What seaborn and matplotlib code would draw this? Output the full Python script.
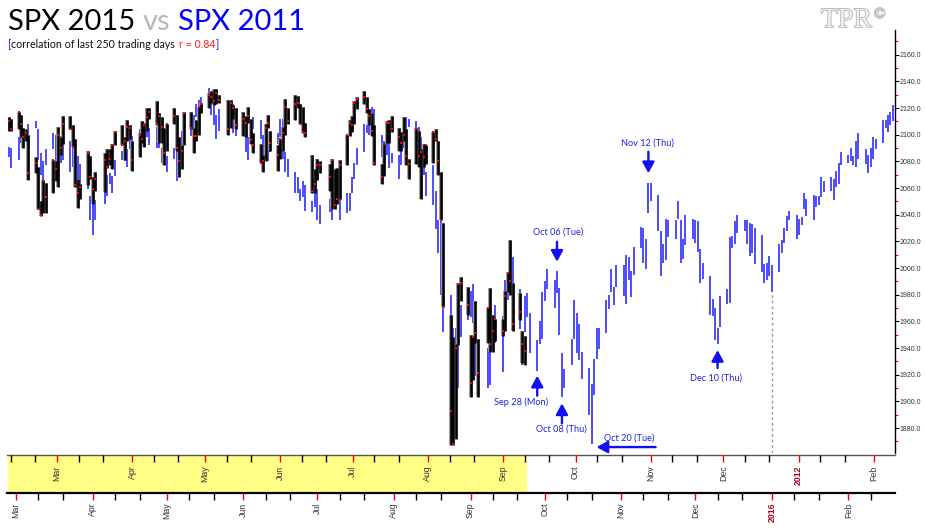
import numpy as np
import pandas as pd
import seaborn as sns
import matplotlib
matplotlib.use("Agg")
import matplotlib.pyplot as plt
import matplotlib.dates as mdates
import matplotlib.patheffects as pe
from matplotlib.transforms import offset_copy
from matplotlib.ticker import MultipleLocator, FormatStrFormatter

# ---- sessions: real 2015 sessions up to Sep 23, projected weekdays after ----
holidays_2015 = ["2015-04-03", "2015-05-25", "2015-07-03", "2015-09-07"]
past_days = pd.bdate_range("2015-02-26", "2015-09-23", freq="C", holidays=holidays_2015)
future_days = pd.bdate_range("2015-09-24", "2016-02-19")
days = past_days.append(future_days)

# ---- SPX 2015 (black bars) ----
highs_2015 = [
    2113, 2112,
    2117, 2115, 2105, 2104, 2100, 2083, 2076, 2050, 2066, 2064, 2081, 2080, 2106, 2098, 2114, 2114, 2107, 2097, 2067, 2063, 2088, 2084,
    2068, 2072, 2086, 2089, 2089, 2093, 2103, 2107, 2098, 2111, 2107, 2095, 2101, 2110, 2109, 2120, 2120, 2125, 2116, 2113, 2105,
    2108, 2120, 2115, 2098, 2092, 2117, 2117, 2105, 2111, 2121, 2124, 2131, 2133, 2134, 2134, 2130, 2126, 2126, 2122, 2120,
    2117, 2114, 2121, 2112, 2101, 2093, 2085, 2108, 2115, 2103, 2092, 2097, 2106, 2127, 2120, 2130, 2129, 2123, 2121, 2109, 2085, 2074,
    2082, 2080, 2078, 2082, 2074, 2075, 2081, 2100, 2111, 2114, 2125, 2128, 2133, 2128, 2119, 2116, 2107, 2078, 2094, 2110, 2111, 2114,
    2105, 2102, 2113, 2104, 2082, 2105, 2103, 2089, 2093, 2092, 2102, 2104, 2095, 2072, 2034, 1965, 1948, 1943, 1989, 1993, 1986,
    1950, 1948, 1975, 1947, 1970, 1985, 1965, 1962, 1962, 1983, 1997, 2021, 1989, 1981, 1953, 1949,
]
lows_2015 = [
    2103, 2103,
    2104, 2098, 2090, 2095, 2066, 2071, 2044, 2039, 2041, 2041, 2056, 2065, 2061, 2085, 2093, 2104, 2091, 2061, 2045, 2052, 2062, 2067,
    2048, 2058, 2057, 2075, 2077, 2074, 2092, 2092, 2081, 2095, 2097, 2073, 2083, 2094, 2091, 2103, 2112, 2107, 2094, 2094, 2077,
    2088, 2108, 2088, 2068, 2074, 2092, 2104, 2086, 2095, 2100, 2116, 2120, 2124, 2122, 2123, 2124, 2100, 2105, 2112, 2104,
    2099, 2098, 2109, 2093, 2086, 2079, 2072, 2080, 2105, 2088, 2073, 2082, 2088, 2100, 2108, 2111, 2120, 2108, 2101, 2098, 2056, 2056,
    2066, 2071, 2058, 2044, 2044, 2048, 2052, 2077, 2099, 2102, 2108, 2119, 2123, 2116, 2107, 2099, 2077, 2063, 2069, 2094, 2094, 2102,
    2088, 2088, 2095, 2077, 2067, 2078, 2076, 2052, 2076, 2078, 2079, 2095, 2070, 2036, 1971, 1867, 1867, 1872, 1942, 1975, 1965,
    1903, 1916, 1944, 1903, 1944, 1937, 1937, 1945, 1949, 1953, 1982, 1980, 1953, 1961, 1929, 1927,
]
closes_2015 = [
    2110, 2104,
    2117, 2108, 2098, 2101, 2071, 2079, 2044, 2040, 2065, 2053, 2081, 2074, 2100, 2090, 2108, 2104, 2091, 2062, 2056, 2061, 2086, 2068,
    2059, 2067, 2081, 2076, 2082, 2092, 2102, 2092, 2095, 2106, 2105, 2081, 2100, 2097, 2107, 2113, 2117, 2108, 2114, 2106, 2086,
    2108, 2114, 2090, 2080, 2088, 2116, 2105, 2099, 2099, 2121, 2123, 2130, 2128, 2125, 2131, 2126, 2104, 2124, 2120, 2107,
    2112, 2109, 2114, 2096, 2092, 2079, 2080, 2105, 2109, 2094, 2085, 2097, 2101, 2121, 2110, 2123, 2124, 2108, 2102, 2101, 2058, 2063,
    2077, 2077, 2068, 2081, 2047, 2052, 2077, 2100, 2109, 2107, 2124, 2127, 2128, 2119, 2114, 2103, 2079, 2068, 2093, 2109, 2109, 2104,
    2098, 2094, 2100, 2084, 2078, 2104, 2084, 2087, 2083, 2092, 2102, 2097, 2080, 2036, 1971, 1893, 1868, 1940, 1988, 1989, 1972,
    1914, 1948, 1951, 1921, 1970, 1943, 1953, 1962, 1953, 1979, 1996, 1990, 1958, 1967, 1943, 1938,
]

# ---- SPX 2011 (blue bars), as drawn on the 2015 scale ----
highs_2011 = [
    2091, 2090, 2098, 2099, 2099, 2104, 2108, 2110, 2104, 2086, 2080, 2089, 2101,
    2100, 2083, 2099, 2099, 2095, 2094, 2094, 2084, 2078, 2072, 2054, 2053, 2051, 2061, 2070, 2071, 2069, 2081, 2088, 2089, 2089, 2099, 2099,
    2104, 2103, 2105, 2106, 2105, 2106, 2099, 2090, 2090, 2084, 2090, 2088, 2082, 2103, 2106, 2105, 2115, 2123, 2126, 2128,
    2135, 2127, 2122, 2115, 2119, 2115, 2124, 2123, 2115, 2116, 2106, 2098, 2108, 2113, 2111, 2100, 2091, 2093, 2096, 2101, 2112,
    2112, 2087, 2082, 2072, 2068, 2059, 2065, 2062, 2050, 2064, 2059, 2047, 2052, 2053, 2068, 2070, 2058, 2056, 2056, 2068, 2079, 2090,
    2108, 2107, 2108, 2121, 2119, 2100, 2095, 2099, 2095, 2086, 2085, 2095, 2098, 2113, 2112, 2110, 2106, 2098, 2085, 2072,
    2077, 2058, 2036, 2036, 1997, 1980, 1955, 1955, 1968, 1972, 1985, 1983, 1988, 1974, 1940, 1940, 1947, 1961, 1972, 1964, 1991, 1996, 2008,
    2008, 1984, 1950, 1979, 1981, 1966, 1946, 1960, 1982, 1990, 1999, 1991, 1998, 1985, 1936, 1924, 1947, 1976, 1966, 1958, 1937, 1925, 1913,
    1932, 1955, 1955, 1976, 1980, 1999, 1986, 2002, 2002, 2010, 2008, 1998, 2016, 2031, 2030, 2022, 2064, 2064, 2055, 2028,
    2018, 2037, 2036, 2036, 2050, 2036, 2022, 2040, 2037, 2036, 2035, 2014, 2004, 1994, 1977, 1970, 1955, 1979, 1984, 2023,
    2024, 2035, 2040, 2036, 2036, 2034, 2033, 2030, 2025, 2003, 2004, 2009, 2002, 2018, 2021, 2030, 2039, 2043, 2040, 2037,
    2038, 2056, 2052, 2055, 2054, 2054, 2068, 2065, 2068, 2067, 2073, 2079, 2087, 2085, 2090, 2084, 2095, 2101, 2089, 2085,
    2090, 2098, 2097, 2111, 2111, 2115, 2117, 2122,
]
lows_2011 = [
    2083, 2075, 2081, 2094, 2092, 2096, 2097, 2105, 2081, 2070, 2065, 2077, 2089,
    2075, 2072, 2079, 2081, 2072, 2076, 2081, 2063, 2063, 2059, 2036, 2025, 2036, 2048, 2054, 2063, 2056, 2069, 2081, 2080, 2076, 2089, 2093,
    2093, 2096, 2097, 2098, 2092, 2090, 2090, 2079, 2080, 2072, 2082, 2065, 2075, 2087, 2101, 2099, 2103, 2113, 2118, 2123,
    2123, 2115, 2107, 2097, 2103, 2106, 2114, 2101, 2099, 2103, 2087, 2081, 2095, 2104, 2097, 2080, 2082, 2080, 2087, 2093, 2098,
    2082, 2072, 2068, 2056, 2056, 2050, 2053, 2043, 2042, 2046, 2036, 2033, 2042, 2036, 2050, 2058, 2036, 2041, 2043, 2056, 2067, 2077,
    2087, 2101, 2100, 2108, 2100, 2083, 2080, 2085, 2075, 2079, 2067, 2077, 2090, 2088, 2106, 2099, 2097, 2073, 2070, 2054,
    2047, 2029, 2011, 1980, 1952, 1908, 1892, 1909, 1910, 1948, 1961, 1963, 1959, 1919, 1910, 1910, 1912, 1938, 1944, 1922, 1963, 1976, 1991,
    1983, 1954, 1927, 1952, 1963, 1936, 1923, 1943, 1947, 1975, 1984, 1970, 1981, 1950, 1903, 1910, 1927, 1947, 1936, 1931, 1917, 1890, 1868,
    1905, 1932, 1939, 1951, 1969, 1982, 1972, 1986, 1979, 1973, 1991, 1978, 1995, 2015, 2004, 1999, 2041, 2050, 2028, 1994,
    2004, 2006, 2023, 2022, 2037, 2004, 2007, 2017, 2022, 2019, 2012, 1989, 1992, 1965, 1964, 1946, 1943, 1956, 1973, 1974,
    2015, 2018, 2026, 2028, 2018, 2009, 2011, 2003, 1997, 1989, 1991, 1994, 1982, 1997, 2011, 2019, 2028, 2036, 2022, 2025,
    2032, 2044, 2039, 2036, 2046, 2047, 2053, 2057, 2058, 2051, 2061, 2063, 2077, 2079, 2080, 2077, 2076, 2082, 2078, 2071,
    2076, 2082, 2089, 2094, 2105, 2102, 2107, 2110,
]

assert len(highs_2015) == len(lows_2015) == len(closes_2015) == len(past_days)
assert len(highs_2011) == len(lows_2011) == len(days)

# ---- axis labels and call-outs ----
months_2015 = ["Mar", "Apr", "May", "Jun", "Jul", "Aug", "Sep", "Oct", "Nov", "Dec", "2016", "Feb"]
months_2011 = ["Mar", "Apr", "May", "Jun", "Jul", "Aug", "Sep", "Oct", "Nov", "Dec", "2012", "Feb"]
ann_labels = ["Sep 28 (Mon)", "Oct 06 (Tue)", "Oct 08 (Thu)", "Oct 20 (Tue)", "Nov 12 (Thu)", "Dec 10 (Thu)"]
ann_dates = pd.to_datetime(["2015-09-28", "2015-10-06", "2015-10-08", "2015-10-20", "2015-11-12", "2015-12-10"])
ann_side = ["low", "high", "low", "low", "high", "low"]

blue = pd.DataFrame({"high": highs_2011, "low": lows_2011}, index=days)

sns.set_theme(style="white")
plt.rcParams["font.family"] = ["Liberation Sans", "DejaVu Sans"]

W, H = 925, 530
fig = plt.figure(figsize=(W / 100, H / 100), dpi=100)


def box(l, t, r, b):
    return [l / W, 1 - b / H, (r - l) / W, (b - t) / H]


ax = fig.add_axes(box(7.5, 30, 895, 453))
strip = fig.add_axes(box(7.5, 455, 895, 493))
xlim = (pd.Timestamp("2015-02-25 13:00"), pd.Timestamp("2016-02-19 20:00"))

# bars
ax.vlines(days, blue["low"], blue["high"], color="#2424ff", lw=1.15, zorder=2)
ax.vlines(past_days, lows_2015, highs_2015, color="#9a9a9a", lw=2.8, zorder=3)
ax.vlines(past_days, lows_2015, highs_2015, color="black", lw=1.8, zorder=4)
sns.scatterplot(x=past_days, y=closes_2015, ax=ax, marker="s", s=3, color="red",
                linewidth=0, zorder=5)

ax.set_ylim(1861.3, 2178.5)
ax.set_xticks([])
ax.set_xlim(*xlim)
ax.set_xlabel("")
ax.set_ylabel("")
for s in ["top", "left", "bottom"]:
    ax.spines[s].set_visible(False)
ax.spines["right"].set_color("black")
ax.spines["right"].set_linewidth(1.0)
ax.yaxis.tick_right()
ax.yaxis.set_major_locator(MultipleLocator(20))
ax.yaxis.set_minor_locator(MultipleLocator(10))
ax.yaxis.set_major_formatter(FormatStrFormatter("%.1f"))
ax.tick_params(axis="y", which="major", length=3, width=0.8, color="black",
               labelsize=5, labelcolor="#333333", pad=0.5)
ax.tick_params(axis="y", which="minor", length=2.5, width=0.8, color="red")

# dotted marker at the turn of the year
year_turn = pd.Timestamp("2016-01-01")
ax.vlines(year_turn, ax.get_ylim()[0], blue.loc[year_turn, "low"], colors="#9a9a9a",
          linestyles=(0, (2, 2)), lw=1, zorder=1)

# call-outs (offsets in pixels: tip, tail, text)
layout = {
    "Sep 28 (Mon)": ((0, -5), (0, -25), (-16, -32)),
    "Oct 06 (Tue)": ((0, 9), (0, 29), (1.5, 38.7)),
    "Oct 08 (Thu)": ((0, -6), (0, -26), (-1, -32)),
    "Oct 20 (Tue)": ((5, -3), (64, -3), (38, 6)),
    "Nov 12 (Thu)": ((0, 9.5), (0, 31), (-1, 40)),
    "Dec 10 (Thu)": ((0, -6), (0, -24), (-1.5, -34)),
}
for label, d, side in zip(ann_labels, ann_dates, ann_side):
    val = float(blue.loc[d, side])
    xd = mdates.date2num(d)
    tip, tail, txt = layout[label]
    tip_tr = offset_copy(ax.transData, fig=fig, x=tip[0], y=tip[1], units="dots")
    ax.annotate("", xy=(xd, val), xycoords=tip_tr,
                xytext=(tail[0] - tip[0], tail[1] - tip[1]), textcoords="offset pixels",
                arrowprops=dict(arrowstyle="-|>,head_length=0.55,head_width=0.3",
                                color="#1010f0", lw=1.7, shrinkA=0, shrinkB=0),
                zorder=6)
    ax.annotate(label, xy=(xd, val), xytext=txt, textcoords="offset pixels",
                ha="center", va="center", fontsize=6.6, color="#2020e6",
                family=["Lato", "DejaVu Sans"], zorder=6)

# ---- time strip with the two calendars ----
strip.set_ylim(0, 1)
strip.axvspan(xlim[0], past_days[-1] + pd.Timedelta(hours=14), color="#ffff85", zorder=0)
strip.set_yticks([])
strip.spines["left"].set_visible(False)
strip.spines["right"].set_visible(False)
strip.spines["top"].set_color("#555555")
strip.spines["top"].set_linewidth(1.0)
strip.spines["bottom"].set_color("black")
strip.spines["bottom"].set_linewidth(1.6)

month_starts_2015 = pd.date_range("2015-03-01", "2016-02-01", freq="MS")
minor_2015 = [d for d in pd.date_range("2015-02-10", "2016-02-20", freq="D") if d.day in (10, 20)]
strip.xaxis.set_ticks_position("bottom")
strip.set_xticks(month_starts_2015)
strip.set_xticklabels(months_2015)
strip.set_xticks(minor_2015, minor=True)
strip.set_xlim(*xlim)
strip.tick_params(axis="x", which="major", direction="out", length=5, width=1, color="red",
                  labelsize=6.3, labelcolor="#333333", labelrotation=90, pad=2)
strip.tick_params(axis="x", which="minor", direction="out", length=5, width=1, color="black")

# 2011 calendar, slightly compressed onto the 2015 dates
top_anchor = pd.Timestamp("2015-03-17 14:00")
start_2011 = pd.Timestamp("2011-03-01")


def to_2015(d):
    return top_anchor + (d - start_2011) * 0.981


month_starts_2011 = pd.date_range("2011-03-01", "2012-02-01", freq="MS")
minor_2011 = [d for d in pd.date_range("2011-02-10", "2012-02-20", freq="D") if d.day in (10, 20)]
top = strip.twiny()
for s in top.spines.values():
    s.set_visible(False)
top.set_xticks([to_2015(d) for d in month_starts_2011])
top.set_xticklabels(months_2011)
top.set_xticks([to_2015(d) for d in minor_2011], minor=True)
top.set_xlim(*xlim)
top.tick_params(axis="x", which="major", direction="in", length=5, width=1, color="red",
                labelsize=6.3, labelcolor="#333333", labelrotation=90, pad=-7.5)
top.tick_params(axis="x", which="minor", direction="in", length=5, width=1, color="black")
for lbl in top.get_xticklabels():
    lbl.set_verticalalignment("top")
    if lbl.get_text().isdigit():
        lbl.set_color("#b00020")
        lbl.set_fontweight("bold")
for lbl in strip.get_xticklabels():
    if lbl.get_text().isdigit():
        lbl.set_color("#b00020")
        lbl.set_fontweight("bold")

# ---- title block ----
fig.canvas.draw()
renderer = fig.canvas.get_renderer()


def chain(parts, x, y, **kw):
    for text, color, gap in parts:
        t = fig.text((x + gap) / W, 1 - y / H, text, color=color, va="baseline", **kw)
        x = t.get_window_extent(renderer).x1


chain([("SPX 2015", "black", 0), ("vs", "#b8b8b8", 7), ("SPX 2011", "#0000ff", 8)],
      8, 30, fontsize=21, family=["Lato", "DejaVu Sans"])
chain([("[", "#0000ff", 0), ("correlation of last 250 trading days", "#111111", 0),
       ("r = 0.84", "#ff1a1a", 3.5), ("]", "#0000ff", 0.5)],
      8, 48, fontsize=7.7, family=["Lato", "DejaVu Sans"])

fig.text(821 / W, 1 - 27 / H, "TPR", fontsize=20, color="#f0f0f0",
         family=["Liberation Serif", "DejaVu Serif"],
         path_effects=[pe.withStroke(linewidth=1.0, foreground="#a8a8a8")])
fig.text(874 / W, 1 - 18 / H, "\u00a9", fontsize=11, color="#f0f0f0",
         family=["Liberation Serif", "DejaVu Serif"],
         path_effects=[pe.withStroke(linewidth=0.8, foreground="#a8a8a8")])

fig.savefig("out.png", dpi=100)
